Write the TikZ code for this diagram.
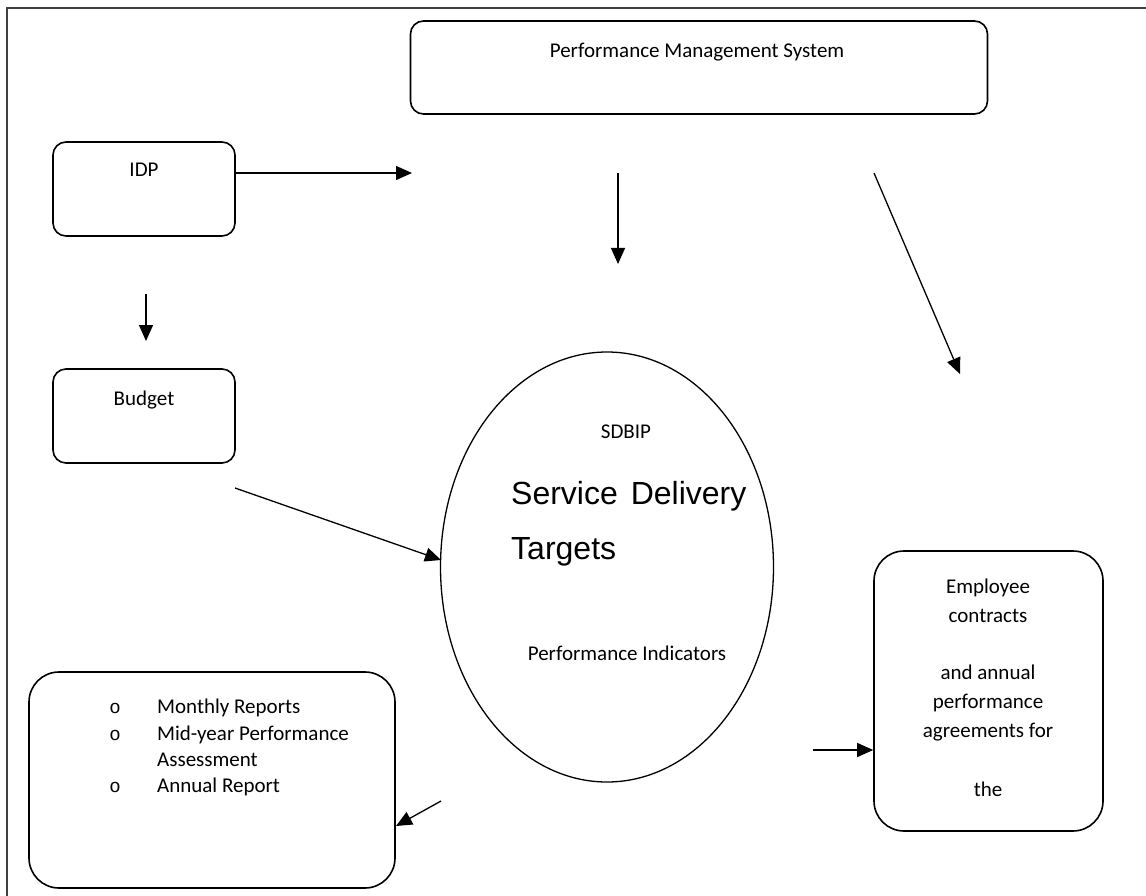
\documentclass[tikz,border=0pt]{standalone}
\usepackage{fontspec}
\setmainfont{Carlito}
\newfontfamily\arialf{Liberation Sans}
\newfontfamily\monof{Liberation Mono}
\usetikzlibrary{arrows.meta,shapes.geometric}
\begin{document}
\begin{tikzpicture}[x=1pt,y=-1pt,
  boxline/.style={draw,line width=1.6pt,inner sep=0pt},
  rbox/.style={boxline,rounded corners=13pt},
  bigbox/.style={boxline,rounded corners=30pt},
  txt/.style={anchor=base,inner sep=0pt,font=\fontsize{21}{25}\selectfont},
  ltxt/.style={txt,anchor=base west},
  arr/.style={line width=1.3pt,-{Triangle[length=16pt,width=14pt]}},
  frameline/.style={line width=2.2pt,draw=black!75}]
\useasboundingbox (0,0) rectangle (1146,896);
% page frame (top and left edges)
\draw[frameline] (7,896) -- (7,8) -- (1146,8);

% boxes
\node[rbox,minimum width=577pt,minimum height=93pt] (pms) at (699,67.5) {};
\node[rbox,minimum width=182pt,minimum height=94pt] (idp) at (144,189) {};
\node[rbox,minimum width=182pt,minimum height=94pt] (bud) at (144,416) {};
\node[bigbox,minimum width=229pt,minimum height=280pt] (emp) at (988.5,691) {};
\node[bigbox,minimum width=366pt,minimum height=216pt] (rep) at (212,780) {};
\node[draw,line width=1.3pt,ellipse,inner sep=0pt,minimum width=333pt,minimum height=430pt] (sdbip) at (607,567) {};

% box texts
\node[txt] (pms-t) at (697,58) {Performance Management System};
\node[txt] (idp-t) at (144,177) {IDP};
\node[txt] (bud-t) at (144,405) {Budget};
\node[txt] (sd-t) at (626,438) {SDBIP};
\node[ltxt,font=\arialf\fontsize{32}{38}\selectfont] (sd-a) at (511,504) {Service\hspace{4pt} Delivery};
\node[ltxt,font=\arialf\fontsize{32}{38}\selectfont] (sd-b) at (511,559) {Targets};
\node[txt] (sd-c) at (627,660) {Performance Indicators};
\foreach \t/\y [count=\i] in {Employee/593,contracts/622,and annual/679,performance/708,agreements for/737,the/796}
  \node[txt] (emp-\i) at (988,\y) {\t};
\foreach \t/\y [count=\i] in {Monthly Reports/713,Mid-year Performance/740,Assessment/766,Annual Report/792}
  \node[ltxt] (rep-\i) at (157,\y) {\t};
\foreach \y [count=\i] in {713,740,792}
  \node[txt,font=\monof\fontsize{19}{25}\selectfont] (bul-\i) at (115,\y) {o};

% arrow ends
\coordinate (a1) at (412,173);
\coordinate (a2s) at (146,294);
\coordinate (a2e) at (146,341);
\coordinate (a3s) at (618,173);
\coordinate (a3e) at (618,264);
\coordinate (a4s) at (874,173);
\coordinate (a4e) at (960,374);
\coordinate (a5s) at (235,488);
\coordinate (a5e) at (441,560);
\coordinate (a6s) at (813,750);
\coordinate (a7s) at (441,801);
\coordinate (a7e) at (396,826);

% connectors
\draw[arr] (idp.east |- a1) -- (a1);
\draw[arr] (a2s) -- (a2e);
\draw[arr] (a3s) -- (a3e);
\draw[arr] (a4s) -- (a4e);
\draw[arr] (a5s) -- (a5e);
\draw[arr] (a6s) -- (a6s -| emp.west);
\draw[arr] (a7s) -- (a7e);
\end{tikzpicture}
\end{document}
